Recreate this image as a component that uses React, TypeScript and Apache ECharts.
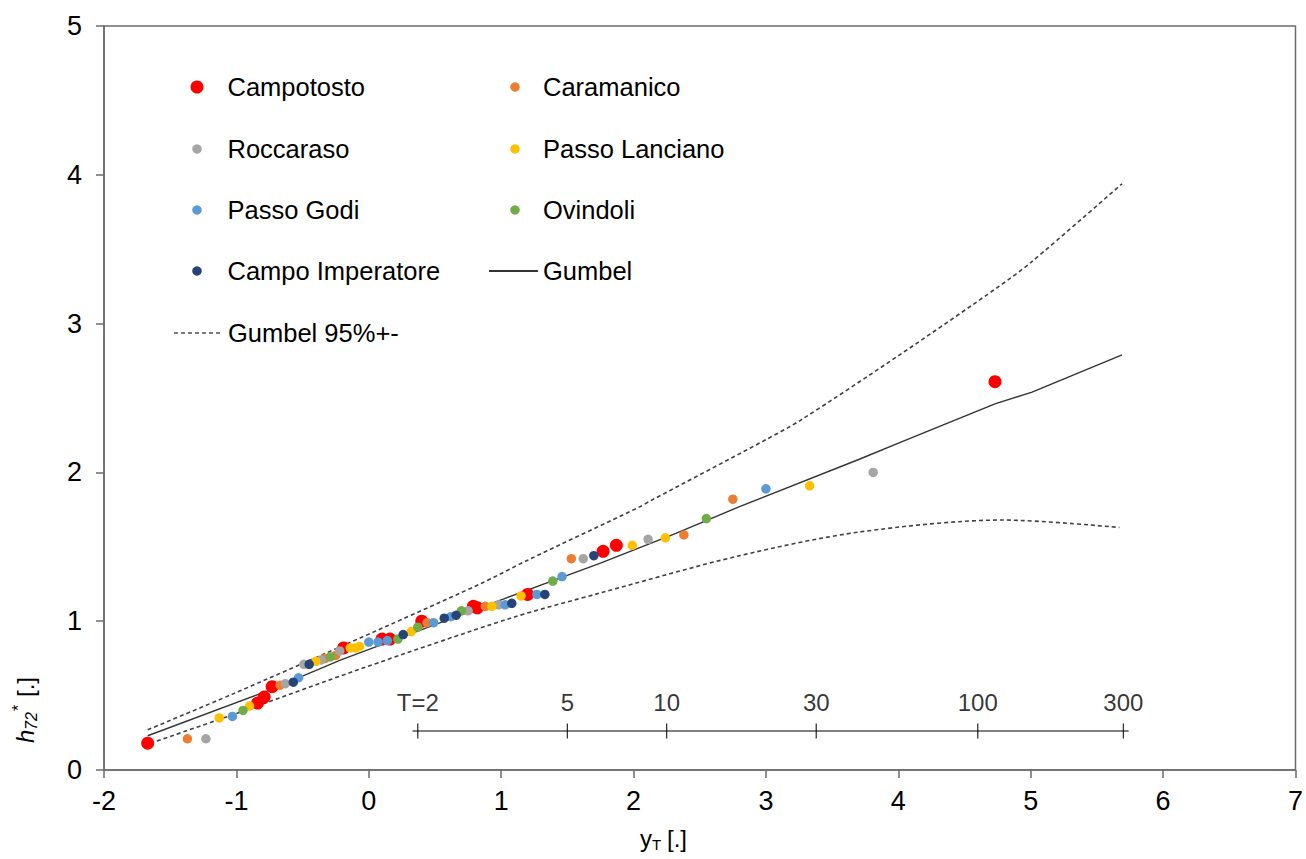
import React, { useEffect, useRef } from 'react';
import * as echarts from 'echarts';

const FONT = 'Arial, "Liberation Sans", sans-serif';

// Observed points (x = reduced variate yT, y = h72*)
const campotosto = [[-1.67, 0.18], [-0.84, 0.45], [-0.79, 0.49], [-0.73, 0.56], [-0.19, 0.82], [0.10, 0.88], [0.16, 0.88], [0.40, 1.00], [0.79, 1.10], [0.82, 1.09], [1.20, 1.18], [1.77, 1.47], [1.87, 1.51], [4.73, 2.61]];
const caramanico = [[-1.37, 0.21], [-0.67, 0.57], [-0.33, 0.75], [-0.25, 0.77], [0.44, 0.99], [0.88, 1.10], [1.53, 1.42], [2.38, 1.58], [2.75, 1.82]];
const roccaraso = [[-1.23, 0.21], [-0.63, 0.58], [-0.49, 0.71], [-0.36, 0.74], [-0.22, 0.80], [0.75, 1.07], [0.98, 1.11], [1.62, 1.42], [2.11, 1.55], [3.81, 2.00]];
const passoLanciano = [[-1.13, 0.35], [-0.90, 0.43], [-0.40, 0.73], [-0.14, 0.82], [-0.10, 0.82], [-0.07, 0.83], [0.32, 0.93], [0.93, 1.10], [1.15, 1.17], [1.99, 1.51], [2.24, 1.56], [3.33, 1.91]];
const passoGodi = [[-1.03, 0.36], [-0.53, 0.62], [0.00, 0.86], [0.07, 0.86], [0.14, 0.87], [0.49, 0.99], [0.62, 1.03], [1.03, 1.11], [1.27, 1.18], [1.46, 1.30], [3.00, 1.89]];
const ovindoli = [[-0.95, 0.40], [-0.29, 0.76], [0.22, 0.88], [0.37, 0.96], [0.70, 1.07], [1.39, 1.27], [2.55, 1.69]];
const campoImperatore = [[-0.57, 0.59], [-0.45, 0.71], [0.26, 0.91], [0.57, 1.02], [0.66, 1.04], [1.08, 1.12], [1.33, 1.18], [1.70, 1.44]];

// Fitted Gumbel curve and 95% bounds
const gumbel = [[-1.67, 0.23], [-0.77, 0.53], [-0.21, 0.74], [0.99, 1.14], [1.75, 1.39], [2.32, 1.59], [2.80, 1.77], [3.71, 2.09], [4.01, 2.20], [4.73, 2.46], [5.01, 2.54], [5.69, 2.79]];
const gumbelUpper = [[-1.67, 0.27], [-1.03, 0.51], [-0.21, 0.83], [0.84, 1.25], [1.20, 1.41], [2.05, 1.77], [2.13, 1.81], [3.00, 2.22], [3.26, 2.35], [4.01, 2.79], [4.76, 3.25], [5.00, 3.41], [5.69, 3.94]];
const gumbelLower = [[-1.65, 0.18], [-1.00, 0.38], [-0.06, 0.68], [1.07, 1.02], [1.75, 1.19], [2.80, 1.44], [3.71, 1.60], [4.79, 1.68], [5.67, 1.63]];

// Return period secondary scale
const returnPeriodLabels = ['T=2', '5', '10', '30', '100', '300'];
const returnPeriodPos = [0.37, 1.50, 2.25, 3.38, 4.60, 5.70];
const returnAxisLevel = 0.262;
const returnAxisEnds = [0.33, 5.74];

const xTicks = { min: -2, max: 7, interval: 1 };
const yTicks = { min: 0, max: 5, interval: 1 };

const stations = [
  { name: 'Campotosto', data: campotosto, color: '#FF0000', size: 13 },
  { name: 'Caramanico', data: caramanico, color: '#ED7D31', size: 9.5 },
  { name: 'Roccaraso', data: roccaraso, color: '#A5A5A5', size: 9.5 },
  { name: 'Passo Lanciano', data: passoLanciano, color: '#FFC000', size: 9.5 },
  { name: 'Passo Godi', data: passoGodi, color: '#5B9BD5', size: 9.5 },
  { name: 'Ovindoli', data: ovindoli, color: '#70AD47', size: 9.5 },
  { name: 'Campo Imperatore', data: campoImperatore, color: '#264478', size: 9.5 },
];

const AXIS_COLOR = '#6b6b6b';

function buildOption() {
  const legendFontSize = 25.5;
  const rows = [88, 150, 211, 272, 334];
  const colDot = [197, 515];
  const colText = [227.5, 543];
  const legendPos: Record<string, { col: number; row: number }> = {
    'Campotosto': { col: 0, row: 0 },
    'Caramanico': { col: 1, row: 0 },
    'Roccaraso': { col: 0, row: 1 },
    'Passo Lanciano': { col: 1, row: 1 },
    'Passo Godi': { col: 0, row: 2 },
    'Ovindoli': { col: 1, row: 2 },
    'Campo Imperatore': { col: 0, row: 3 },
  };
  const legends: any[] = stations.map((s) => {
    const p = legendPos[s.name];
    const sz = s.name === 'Campotosto' ? 13 : 9.5;
    const left = colDot[p.col] - sz / 2;
    const pad = colText[p.col] - (left + sz + 5);
    return {
      data: [{ name: s.name, icon: 'circle' }],
      left,
      top: rows[p.row] - 14,
      padding: 0,
      itemWidth: sz,
      itemHeight: sz,
      textStyle: { fontFamily: FONT, fontSize: legendFontSize, color: '#000', padding: [0, 0, 0, pad] },
      selectedMode: false,
    };
  });
  legends.push({
    data: ['Gumbel'], left: 488, top: rows[3] - 14, padding: 0, itemWidth: 49, itemHeight: 14,
    itemStyle: { opacity: 0 },
    textStyle: { fontFamily: FONT, fontSize: legendFontSize, color: '#000', padding: [0, 0, 0, 0] }, selectedMode: false,
  });
  legends.push({
    data: ['Gumbel 95%+-'], left: 173, top: rows[4] - 14, padding: 0, itemWidth: 46, itemHeight: 14,
    itemStyle: { opacity: 0 },
    lineStyle: { color: '#7a7a7a' },
    textStyle: { fontFamily: FONT, fontSize: legendFontSize, color: '#000', padding: [0, 0, 0, 3] }, selectedMode: false,
  });

  const series: any[] = [];
  series.push({
    name: 'Gumbel 95%+-', type: 'line', data: gumbelUpper, symbol: 'none', smooth: 0.3,
    itemStyle: { color: '#404040' },
    lineStyle: { color: '#404040', width: 1.6, type: [4, 3] }, z: 3, silent: true,
  });
  series.push({
    name: 'Gumbel 95%+-', type: 'line', data: gumbelLower, symbol: 'none', smooth: 0.3,
    itemStyle: { color: '#404040' },
    lineStyle: { color: '#404040', width: 1.6, type: [4, 3] }, z: 3, silent: true,
  });
  series.push({
    name: 'Gumbel', type: 'line', data: gumbel, symbol: 'none',
    itemStyle: { color: '#333333' },
    lineStyle: { color: '#333333', width: 1.4 }, z: 3, silent: true,
  });
  stations.forEach((s) => {
    series.push({
      name: s.name, type: 'scatter', data: s.data, symbol: 'circle', symbolSize: s.size,
      itemStyle: { color: s.color, opacity: 1 }, z: 4, silent: true,
    });
  });
  // Return period scale
  series.push({
    name: 'T axis', type: 'line', symbol: 'none', silent: true, z: 5,
    data: returnAxisEnds.map((x) => [x, returnAxisLevel]),
    lineStyle: { color: '#000', width: 1.2 },
  });
  series.push({
    name: 'T ticks', type: 'scatter', silent: true, z: 5,
    data: returnPeriodPos.map((x, i) => ({ value: [x, returnAxisLevel], label: { formatter: returnPeriodLabels[i] } })),
    symbol: 'rect', symbolSize: [1.3, 15],
    itemStyle: { color: '#000' },
    label: { show: true, position: 'top', distance: 9, fontFamily: FONT, fontSize: 24, color: '#000' },
  });

  return {
    animation: false,
    backgroundColor: '#ffffff',
    textStyle: { fontFamily: FONT },
    grid: { left: 104, right: 9, top: 26, bottom: 89, show: true, borderColor: AXIS_COLOR, borderWidth: 1.5, backgroundColor: 'transparent' },
    legend: legends,
    xAxis: {
      type: 'value', min: xTicks.min, max: xTicks.max, interval: xTicks.interval,
      axisLine: { show: true, onZero: false, lineStyle: { color: AXIS_COLOR, width: 1.5 } },
      axisTick: { show: true, length: 8, lineStyle: { color: AXIS_COLOR, width: 1.5 } },
      axisLabel: { fontFamily: FONT, fontSize: 27, color: '#000', margin: 17 },
      splitLine: { show: false },
    },
    yAxis: {
      type: 'value', min: yTicks.min, max: yTicks.max, interval: yTicks.interval,
      axisLine: { show: true, onZero: false, lineStyle: { color: AXIS_COLOR, width: 1.5 } },
      axisTick: { show: true, length: 8, lineStyle: { color: AXIS_COLOR, width: 1.5 } },
      axisLabel: { fontFamily: FONT, fontSize: 27, color: '#000', margin: 22 },
      splitLine: { show: false },
    },
    graphic: [
      {
        type: 'group', x: 25, y: 743, rotation: Math.PI / 2,
        children: [
          { type: 'text', x: 0, y: 0, style: { text: 'h', font: `italic 24px ${FONT}`, fill: '#000', verticalAlign: 'middle', align: 'left' } },
          { type: 'text', x: 13, y: 6, style: { text: '72', font: `italic 16px ${FONT}`, fill: '#000', verticalAlign: 'middle', align: 'left' } },
          { type: 'text', x: 32, y: -7, style: { text: '*', font: `16px ${FONT}`, fill: '#000', verticalAlign: 'middle', align: 'left' } },
          { type: 'text', x: 46, y: 0, style: { text: '[.]', font: `24px ${FONT}`, fill: '#000', verticalAlign: 'middle', align: 'left' } },
        ],
      },
      {
        type: 'group', x: 640, y: 838,
        children: [
          { type: 'text', x: 0, y: 0, style: { text: 'y', font: `24px ${FONT}`, fill: '#000', verticalAlign: 'middle', align: 'left' } },
          { type: 'text', x: 12, y: 6, style: { text: 'T', font: `15px ${FONT}`, fill: '#000', verticalAlign: 'middle', align: 'left' } },
          { type: 'text', x: 27, y: 0, style: { text: '[.]', font: `24px ${FONT}`, fill: '#000', verticalAlign: 'middle', align: 'left' } },
        ],
      },
    ],
    series,
  };
}

export default function App() {
  const ref = useRef<HTMLDivElement>(null);
  useEffect(() => {
    const chart = echarts.init(ref.current!, null, { renderer: 'svg' });
    chart.setOption(buildOption() as any);
    return () => chart.dispose();
  }, []);
  return (
    <div
      ref={ref}
      style={{ position: 'absolute', left: 0, top: 0, width: 1306, height: 859, background: '#fff' }}
    />
  );
}
